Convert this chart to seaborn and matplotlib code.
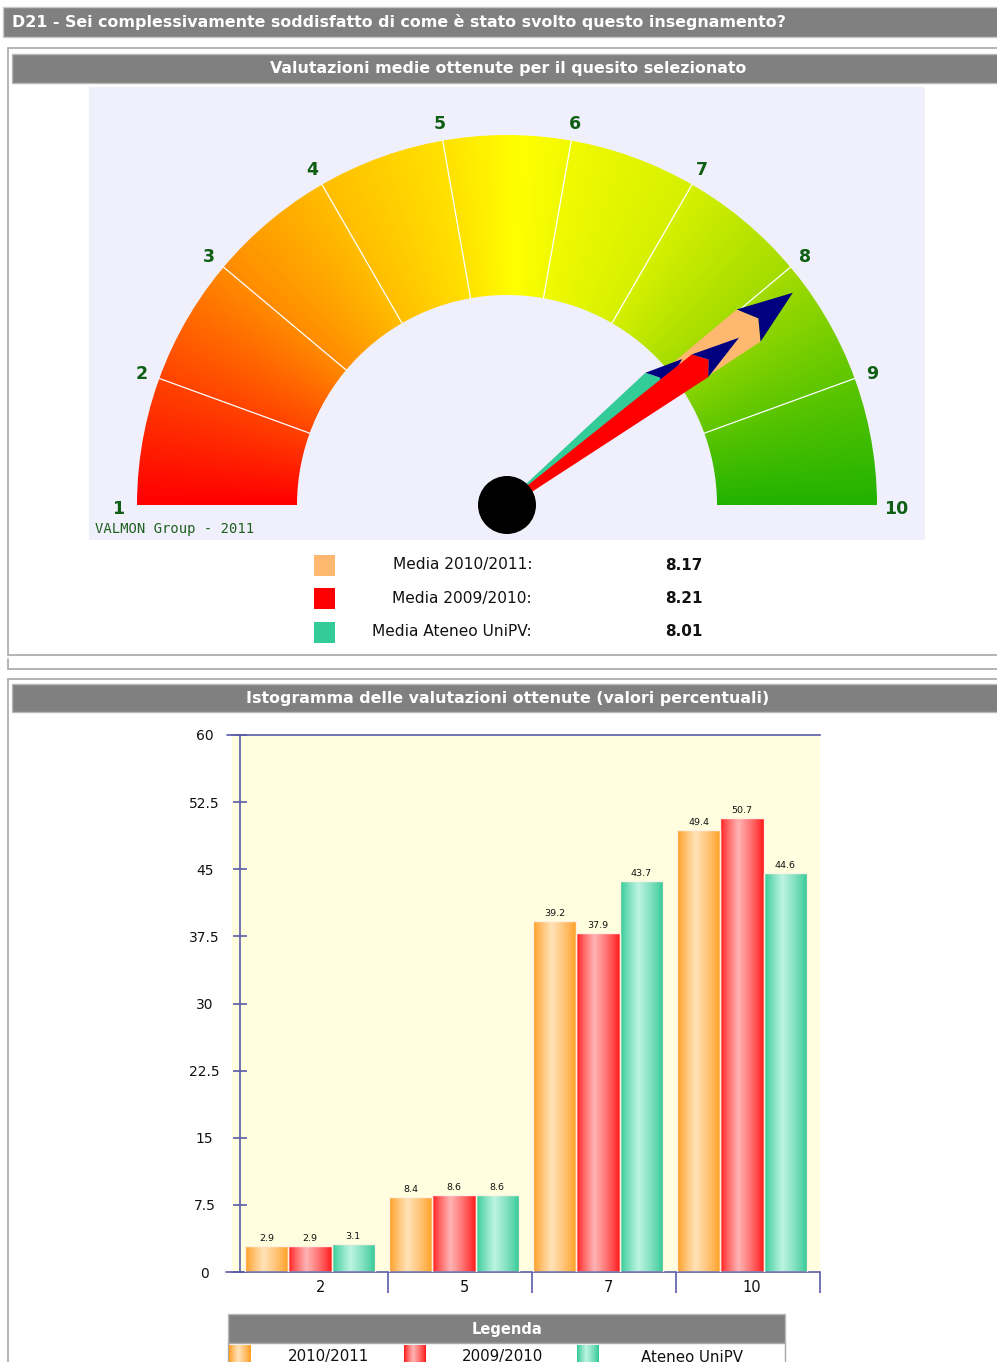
import numpy as np
import pandas as pd
import matplotlib
matplotlib.use("Agg")
import matplotlib.pyplot as plt
from matplotlib.patches import Rectangle, Wedge, Polygon, Circle
from matplotlib.colors import LinearSegmentedColormap, to_rgb
import matplotlib.transforms as mtransforms
import seaborn as sns

# ---------------- data ----------------
question = "D21 - Sei complessivamente soddisfatto di come è stato svolto questo insegnamento?"
gauge_title = "Valutazioni medie ottenute per il quesito selezionato"
hist_title = "Istogramma delle valutazioni ottenute (valori percentuali)"
gauge_scale = [1, 2, 3, 4, 5, 6, 7, 8, 9, 10]
mean_labels = ["Media 2010/2011:", "Media 2009/2010:", "Media Ateneo UniPV:"]
mean_values = [8.17, 8.21, 8.01]
series = ["2010/2011", "2009/2010", "Ateneo UniPV"]
categories = ["2", "5", "7", "10"]
vals_2010_2011 = [2.9, 8.4, 39.2, 49.4]
vals_2009_2010 = [2.9, 8.6, 37.9, 50.7]
vals_ateneo = [3.1, 8.6, 43.7, 44.6]
y_ticks = [0, 7.5, 15, 22.5, 30, 37.5, 45, 52.5, 60]
watermark = "VALMON Group - 2011"
legend_title = "Legenda"

# ---------------- style ----------------
sns.set_style("white")
plt.rcParams['font.family'] = ['DejaVu Sans']

W, H = 997, 1362
fig = plt.figure(figsize=(W / 100, H / 100), dpi=100)
fig.patch.set_facecolor("white")

GRAY = "#808080"
BORDER = "#A8A8A8"
AXC = "#5B5BA8"
needle_colors = ["#FFB870", "#FF0000", "#33CC99"]
bar_edge = ["#FF9A1A", "#FF1414", "#2CC890"]
bar_center = ["#FFE2B8", "#FFB4B4", "#BDF3E2"]


def grad_row(edge, center, n=64):
    t = np.linspace(0, 1, n)
    b = np.interp(t, [0, 0.42, 1], [0, 1, 0]) ** 0.8
    e = np.array(to_rgb(edge))
    c = np.array(to_rgb(center))
    return (e[None, :] + (c - e)[None, :] * b[:, None])[None, :, :]


# ---------------- background / frames ----------------
bg = fig.add_axes([0, 0, 1, 1])
bg.set_xlim(0, W)
bg.set_ylim(H, 0)
bg.axis("off")

bg.add_patch(Rectangle((3, 7), 1000, 30, fc=GRAY, ec="#C8C8C8", lw=1))
bg.text(12, 22.5, question, color="white", fontsize=11.4, fontweight="bold", va="center", ha="left")

bg.add_patch(Rectangle((8, 48), 1000, 607, fc="white", ec=BORDER, lw=1.2))
bg.add_patch(Rectangle((12, 54), 995, 29, fc=GRAY, ec="#B8B8B8", lw=1))
bg.text(508, 68.5, gauge_title, color="white", fontsize=11.4, fontweight="bold", va="center", ha="center")

bg.plot([8, 8], [659, 669], color=BORDER, lw=1.2)
bg.plot([8, 1000], [669, 669], color=BORDER, lw=1.2)

bg.plot([8, 1000], [679, 679], color=BORDER, lw=1.2)
bg.plot([8, 8], [679, 1365], color=BORDER, lw=1.2)
bg.add_patch(Rectangle((12, 684), 995, 28, fc=GRAY, ec="#B8B8B8", lw=1))
bg.text(508, 698, hist_title, color="white", fontsize=11.4, fontweight="bold", va="center", ha="center")

# gauge legend
for i, (lab, val) in enumerate(zip(mean_labels, mean_values)):
    yc = 565 + i * 33.5
    bg.add_patch(Rectangle((314, yc - 10.5), 21, 21, fc=needle_colors[i], ec="none"))
    bg.text(532, yc, lab, fontsize=11.1, color="#111111", ha="right", va="center")
    bg.text(665, yc, f"{val:.2f}", fontsize=11, fontweight="bold", color="#111111", ha="left", va="center")

# bottom legend
bg.add_patch(Rectangle((228, 1314), 557, 29, fc=GRAY, ec="#B8B8B8", lw=1))
bg.text(507, 1329.5, legend_title, color="white", fontsize=10.5, fontweight="bold", ha="center", va="center")
bg.add_patch(Rectangle((228, 1343), 557, 30, fc="white", ec=BORDER, lw=1))
sw_x = [229, 404, 577]
txt_x = [328, 502, 692]
for i, name in enumerate(series):
    bg.imshow(grad_row(bar_edge[i], bar_center[i]), extent=(sw_x[i], sw_x[i] + 22, 1345, 1364),
              aspect="auto", interpolation="bilinear", zorder=3)
    bg.text(txt_x[i], 1357, name, fontsize=10.8, color="#111111", ha="center", va="center")
# extension of chart frame lines to the left
bg.plot([227, 233], [735, 735], color=AXC, lw=1.2)
bg.plot([226, 233], [1272, 1272], color=AXC, lw=1.2)
bg.set_xlim(0, W)
bg.set_ylim(H, 0)

# ---------------- gauge ----------------
ga = fig.add_axes([89 / W, (H - 540) / H, 836 / W, 453 / H])
ga.set_xlim(-418, 418)
ga.set_ylim(-35, 418)
ga.set_facecolor("#F0F0FC")
ga.set_xticks([])
ga.set_yticks([])
for s in ga.spines.values():
    s.set_visible(False)

R_OUT, R_IN = 370, 210
gauge_cmap = LinearSegmentedColormap.from_list(
    "gauge",
    [(0.0, "#FF0000"), (1 / 9, "#FF4400"), (2 / 9, "#FF8C00"), (3 / 9, "#FFBE00"),
     (4 / 9, "#FFE200"), (4.6 / 9, "#FFFF00"), (5 / 9, "#F2FA00"), (6 / 9, "#D6F000"),
     (7 / 9, "#A4DC00"), (8 / 9, "#5EC600"), (1.0, "#22B200")])
xs = np.linspace(-372, 372, 745)
ys = np.linspace(0, 372, 373)
X, Y = np.meshgrid(xs, ys)
theta = np.degrees(np.arctan2(Y, X))
vnorm = np.clip((180 - theta) / 180, 0, 1)
img = gauge_cmap(vnorm)
wedge = Wedge((0, 0), R_OUT, 0, 180, width=R_OUT - R_IN, fc="none", ec="none")
ga.add_patch(wedge)
im = ga.imshow(img, extent=(-372, 372, 0, 372), origin="lower", interpolation="bilinear", zorder=1)
im.set_clip_path(wedge)


def ang(v):
    return np.radians(180 - (v - 1) * 20)


for v in gauge_scale[1:-1]:
    a = ang(v)
    ga.plot([R_IN * np.cos(a), R_OUT * np.cos(a)], [R_IN * np.sin(a), R_OUT * np.sin(a)],
            color="white", lw=0.9, zorder=2)
for v in gauge_scale:
    a = ang(v)
    r = 389
    yy = r * np.sin(a) - (2 if v in (1, 10) else 0)
    ga.text(r * np.cos(a), yy - 2, str(v), color="#0E5E14", fontsize=12.5, fontweight="bold",
            ha="center", va="center", zorder=3)
ga.text(-412, -24, watermark, family="DejaVu Sans Mono", fontsize=10, color="#1F5F1F",
        ha="left", va="center")

# needles: (value index, length, head length, half width)
needle_specs = [(0, 356, 55, 20), (2, 228, 37, 13), (1, 286, 48, 14)]
for idx, L, hl, hw in needle_specs:
    a = ang(mean_values[idx])
    u = np.array([np.cos(a), np.sin(a)])
    n = np.array([-np.sin(a), np.cos(a)])
    b = u * (L - hl)
    shaft = [n * 2.5, b + n * hw, b + u * (0.22 * hl), b - n * hw, -n * 2.5]
    ga.add_patch(Polygon(shaft, closed=True, fc=needle_colors[idx], ec="none", zorder=4))
    head = [b + n * hw, u * L, b - n * hw, b + u * (0.22 * hl)]
    ga.add_patch(Polygon(head, closed=True, fc="#000080", ec="none", zorder=4))
ga.add_patch(Circle((0, 0), 29, fc="black", ec="none", zorder=6))

# ---------------- histogram ----------------
ax = fig.add_axes([232 / W, 90 / H, 588 / W, 537 / H])
df = pd.DataFrame({
    "cat": categories * 3,
    "serie": [series[0]] * 4 + [series[1]] * 4 + [series[2]] * 4,
    "val": vals_2010_2011 + vals_2009_2010 + vals_ateneo,
})
sns.barplot(data=df, x="cat", y="val", hue="serie", order=categories, hue_order=series,
            palette=bar_edge, width=0.9, gap=0, saturation=1, errorbar=None, legend=False,
            edgecolor="#FFF2E2", linewidth=1.0, ax=ax)
ax.set_facecolor("#FFFFE0")
for i, cont in enumerate(ax.containers):
    g = grad_row(bar_edge[i], bar_center[i])
    for p in cont.patches:
        x0, w, h = p.get_x(), p.get_width(), p.get_height()
        im2 = ax.imshow(g, extent=(x0, x0 + w, 0, h), aspect="auto", interpolation="bilinear", zorder=2)
        im2.set_clip_path(p)
        p.set_facecolor("none")
        p.set_zorder(3)
    ax.bar_label(cont, labels=[f"{v:.1f}" for v in cont.datavalues], padding=2,
                 fontsize=6.8, color="#111111", zorder=4)

ax.set_xlim(-0.5417, 3.5417)
ax.set_ylim(0, 60)
ax.set_xlabel("")
ax.set_ylabel("")
ax.spines["left"].set_position(("data", -0.486))
for side in ["left", "top", "bottom"]:
    ax.spines[side].set_color(AXC)
    ax.spines[side].set_linewidth(1.2)
ax.spines["right"].set_visible(False)
ax.set_yticks(y_ticks)
ax.set_yticklabels([f"{t:g}" for t in y_ticks])
ax.tick_params(axis="y", left=True, direction="inout", length=10, width=1.2, color=AXC, pad=20.5,
               labelsize=10, labelcolor="#111111")
for lab in ax.get_yticklabels():
    lab.set_ha("center")
ax.set_xticks([i + 0.07 for i in range(len(categories))])
ax.set_xticklabels(categories)
ax.tick_params(axis="x", bottom=False, length=0, pad=6, labelsize=10.5, labelcolor="#111111")
trans = mtransforms.blended_transform_factory(ax.transData, ax.transAxes)
ax.vlines([i + 0.5417 for i in range(len(categories))], -21 / 537, 0, transform=trans,
          color=AXC, lw=1.2, clip_on=False)

fig.savefig("out.png", dpi=100, facecolor="white")
